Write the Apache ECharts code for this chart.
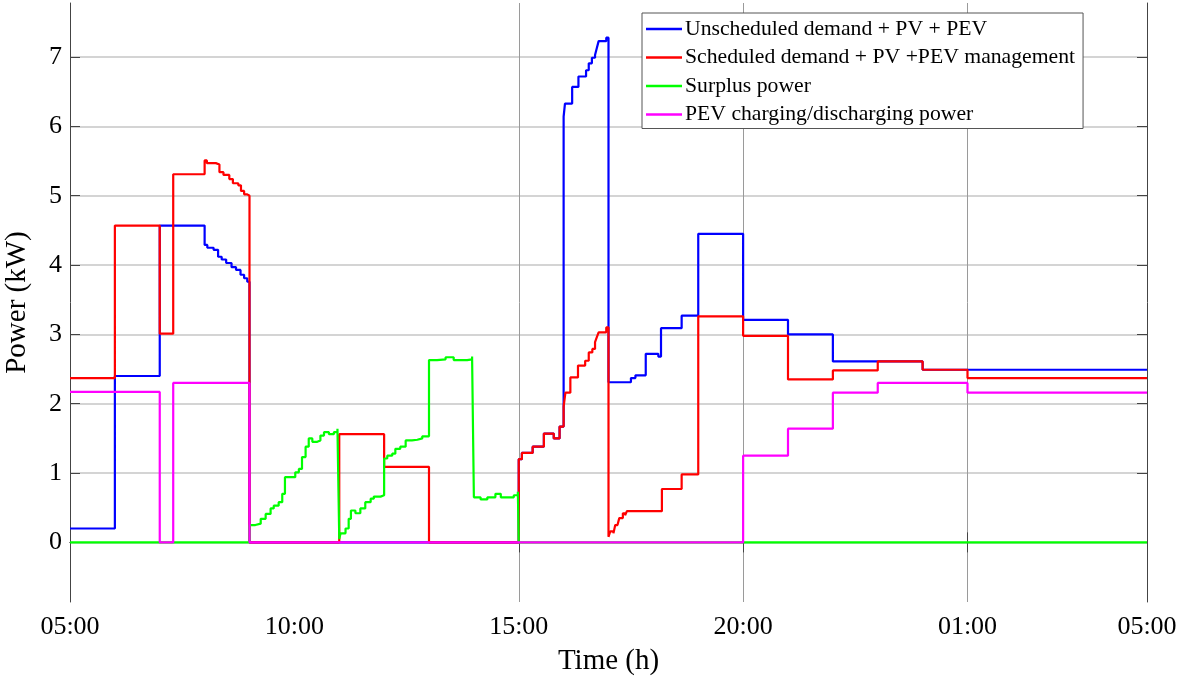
<!DOCTYPE html>
<html>
<head>
<meta charset="utf-8">
<title>Power profile</title>
<script src="https://cdn.jsdelivr.net/npm/echarts@6/dist/echarts.min.js"></script>
<style>
  html, body { margin: 0; padding: 0; background: #fff; }
  #chart { width: 1180px; height: 681px; }
</style>
</head>
<body>
<div id="chart"></div>
<script>
// time in hours from 05:00 (29 = 05:00 next day), value in kW
const seriesNames = [
  "Unscheduled demand + PV + PEV",
  "Scheduled demand + PV +PEV management",
  "Surplus power",
  "PEV charging/discharging power",
];

const unscheduled = [
  [5.0, 0.2], [6.0, 2.4], [7.0, 4.57], [8.0, 4.29], [8.06, 4.25], [8.2, 4.22],
  [8.3, 4.12], [8.38, 4.08], [8.48, 4.03], [8.6, 3.97], [8.7, 3.93], [8.8, 3.86],
  [8.88, 3.81], [8.95, 3.76], [9.0, 0],
  [15.0, 1.2], [15.07, 1.29], [15.31, 1.38], [15.56, 1.57], [15.78, 1.5], [15.91, 1.67],
  [16.0, 6.14], [16.03, 6.33], [16.19, 6.57], [16.33, 6.72], [16.5, 6.81], [16.56, 6.91],
  [16.63, 6.99], [16.7, 7.03], [16.74, 7.13], [16.78, 7.23], [16.95, 7.28],
  [17.0, 2.31], [17.5, 2.37], [17.6, 2.41], [17.83, 2.72], [18.11, 2.68], [18.17, 3.09],
  [18.63, 3.27], [19.0, 4.45], [20.0, 3.21], [21.0, 3.0], [22.0, 2.61], [24.0, 2.49], [29.0, 2.49],
];

const scheduled = [
  [5.0, 2.37], [6.0, 4.57], [7.0, 3.01], [7.3, 5.31], [8.0, 5.51], [8.05, 5.47],
  [8.25, 5.45], [8.33, 5.34], [8.42, 5.3], [8.55, 5.24], [8.63, 5.18], [8.75, 5.15],
  [8.81, 5.07], [8.88, 5.02], [8.95, 5.0], [9.0, 0],
  [11.0, 1.56], [12.0, 1.09], [13.0, 0],
  [15.0, 1.2], [15.07, 1.29], [15.31, 1.38], [15.56, 1.57], [15.78, 1.5], [15.91, 1.67],
  [16.0, 1.96], [16.04, 2.16], [16.15, 2.38], [16.32, 2.55], [16.48, 2.62], [16.56, 2.74],
  [16.64, 2.79], [16.7, 2.89], [16.74, 2.96], [16.78, 3.03], [16.95, 3.1],
  [17.0, 0.08], [17.04, 0.16], [17.11, 0.13], [17.15, 0.25], [17.2, 0.23], [17.24, 0.35],
  [17.32, 0.42], [17.37, 0.39], [17.41, 0.45], [18.19, 0.77], [18.63, 0.98],
  [19.0, 3.26], [20.0, 2.98], [21.0, 2.35], [22.0, 2.48], [23.0, 2.61], [24.0, 2.49],
  [25.0, 2.37], [29.0, 2.37],
];

const surplus = [
  [5.0, 0], [9.0, 0.25], [9.13, 0.27], [9.25, 0.34], [9.36, 0.41], [9.47, 0.49],
  [9.54, 0.53], [9.65, 0.58], [9.73, 0.7], [9.79, 0.94], [10.02, 1.01], [10.1, 1.06],
  [10.17, 1.23], [10.25, 1.38], [10.32, 1.5], [10.4, 1.45], [10.51, 1.47], [10.58, 1.54],
  [10.66, 1.59], [10.77, 1.56], [10.88, 1.59], [10.96, 1.64],
  [11.0, 0.05], [11.03, 0.13], [11.14, 0.2], [11.21, 0.34], [11.26, 0.46], [11.36, 0.42],
  [11.47, 0.49], [11.58, 0.58], [11.7, 0.63], [11.77, 0.66], [11.92, 0.68],
  [12.0, 1.21], [12.07, 1.25], [12.18, 1.28], [12.25, 1.35], [12.36, 1.38], [12.48, 1.47],
  [12.62, 1.48], [12.74, 1.5], [12.85, 1.53],
  [13.0, 2.63], [13.18, 2.64], [13.37, 2.67], [13.55, 2.63], [13.85, 2.64], [13.96, 2.68],
  [14.0, 0.65], [14.15, 0.62], [14.3, 0.65], [14.48, 0.7], [14.6, 0.65], [14.74, 0.65],
  [14.89, 0.68], [14.98, 0.73], [15.0, 0], [29.0, 0],
];

const pevPower = [
  [5.0, 2.17], [7.0, 0], [7.3, 2.3], [9.0, 0], [20.0, 1.25], [21.0, 1.64],
  [22.0, 2.16], [23.0, 2.3], [25.0, 2.16], [29.0, 2.16],
];

const xLabelValues = [5, 10, 15, 20, 25, 29];
const xTickValues = [15, 20, 25];
const yTickValues = [0, 1, 2, 3, 4, 5, 6, 7];
const colors = ["#0000ff", "#ff0000", "#00ff00", "#ff00ff"];

const FONT = "Liberation Serif";
const chart = echarts.init(document.getElementById("chart"));

function clock(v) {
  return String(Math.round(v) % 24).padStart(2, "0") + ":00";
}

const allData = [unscheduled, scheduled, surplus, pevPower];
const series = allData.map((d, i) => ({
  name: seriesNames[i],
  type: "line",
  step: "end",
  symbol: "none",
  data: d,
  lineStyle: { color: colors[i], width: 2.2 },
  itemStyle: { color: colors[i] },
}));

const option = {
  animation: false,
  backgroundColor: "#fff",
  textStyle: { fontFamily: FONT },
  grid: { left: 70, right: 33, top: 3, bottom: 79, containLabel: false, outerBoundsMode: "none" },
  legend: {
    orient: "vertical",
    left: 642,
    top: 13,
    padding: [5, 8, 3, 4],
    icon: "rect",
    itemWidth: 36,
    itemHeight: 2.5,
    itemGap: 6.5,
    backgroundColor: "#fff",
    borderColor: "#555",
    borderWidth: 1,
    textStyle: { fontFamily: FONT, fontSize: 21.7, color: "#000", lineHeight: 22, padding: [0, 0, 0, -2] },
    data: seriesNames,
  },
  xAxis: [
    {
      type: "value",
      min: 5,
      max: 29,
      interval: 5,
      name: "Time (h)",
      nameLocation: "middle",
      nameGap: 45,
      nameTextStyle: { fontFamily: FONT, fontSize: 29, color: "#000" },
      axisLine: { show: true, lineStyle: { color: "#444", width: 1 } },
      axisTick: { show: true, inside: true, length: 10, customValues: xTickValues, lineStyle: { color: "#444" } },
      axisLabel: {
        customValues: xLabelValues,
        formatter: clock,
        fontFamily: FONT,
        fontSize: 26,
        color: "#000",
        margin: 12,
      },
      splitLine: { show: true, lineStyle: { color: "#9a9a9a", width: 1 } },
    },
    {
      type: "value",
      position: "top",
      min: 5,
      max: 29,
      interval: 5,
      axisLine: { show: true, lineStyle: { color: "#444", width: 1 } },
      axisTick: { show: true, inside: true, length: 10, customValues: xTickValues, lineStyle: { color: "#444" } },
      axisLabel: { show: false },
      splitLine: { show: false },
    },
  ],
  yAxis: [
    {
      type: "value",
      min: -0.86,
      max: 7.78,
      splitNumber: 8,
      name: "Power (kW)",
      nameLocation: "middle",
      nameGap: 38,
      nameTextStyle: { fontFamily: FONT, fontSize: 29, color: "#000" },
      axisLine: { show: true, lineStyle: { color: "#444", width: 1 } },
      axisTick: { show: true, inside: true, length: 10, customValues: yTickValues, lineStyle: { color: "#444" } },
      axisLabel: { customValues: yTickValues, fontFamily: FONT, fontSize: 26, color: "#000", margin: 8 },
      splitLine: { show: true, lineStyle: { color: "#c6c6c6", width: 1.5 } },
    },
    {
      type: "value",
      position: "right",
      min: -0.86,
      max: 7.78,
      splitNumber: 8,
      axisLine: { show: true, lineStyle: { color: "#444", width: 1 } },
      axisTick: { show: true, inside: true, length: 10, customValues: yTickValues, lineStyle: { color: "#444" } },
      axisLabel: { show: false },
      splitLine: { show: false },
    },
  ],
  series: series,
};

chart.setOption(option);
</script>
</body>
</html>
